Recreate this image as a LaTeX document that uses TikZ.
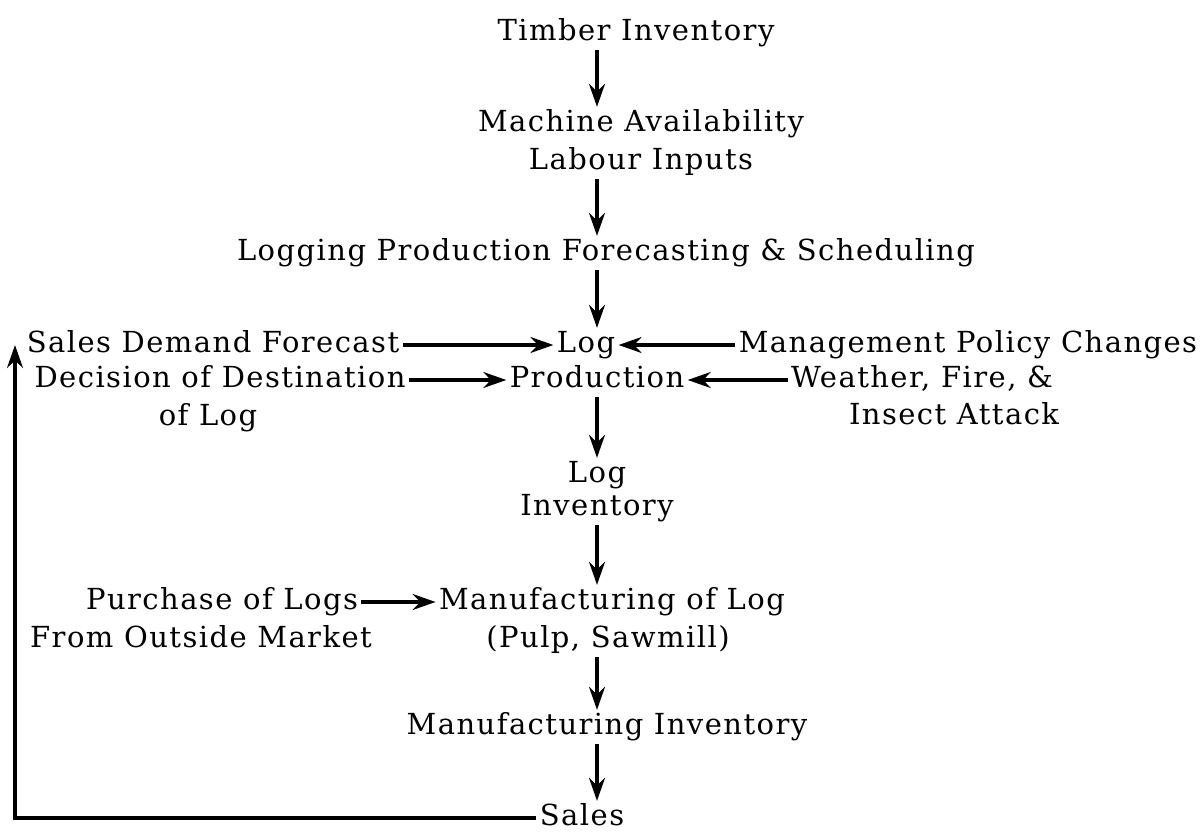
\documentclass[tikz,border=0pt]{standalone}
\usepackage{fontspec}
\setmainfont[LetterSpace=5]{DejaVu Serif}
\usetikzlibrary{arrows.meta}

\begin{document}
\begin{tikzpicture}[x=0.02cm,y=-0.02cm,
		txt/.style={inner sep=0pt, outer sep=2pt, font=\fontsize{16.5}{19}\selectfont, text height=12pt, text depth=3.5pt},
		flow/.style={line width=2.6pt, -{Stealth[length=13pt,width=9pt]}}]
		\useasboundingbox (0,0) rectangle (1201,835);
		\coordinate (ax) at (597,0);
		\coordinate (fb) at (15,0);
		% main column
		\node[txt] (timber) at (636,33) {Timber Inventory};
		\node[txt] (mach) at (641,124) {Machine Availability};
		\node[txt] (labour) at (641,162) {Labour Inputs};
		\node[txt] (lpf) at (606,253) {Logging Production Forecasting \& Scheduling};
		\node[txt] (log) at (586,345) {Log};
		\node[txt] (prod) at (597,380) {Production};
		\node[txt] (loglbl) at (597,475) {Log};
		\node[txt] (loginv) at (597,508) {Inventory};
		\node[txt] (manuf) at (612,602) {Manufacturing of Log};
		\node[txt] (pulp) at (608,640) {(Pulp, Sawmill)};
		\node[txt] (minv) at (607,727) {Manufacturing Inventory};
		\node[txt] (sales) at (582,818) {Sales};
		% side inputs
		\node[txt] (sdf) at (213,345) {Sales Demand Forecast};
		\node[txt] (dest) at (220,380) {Decision of Destination};
		\node[txt] (oflog) at (208,418) {of Log};
		\node[txt] (mpc) at (968,345) {Management Policy Changes};
		\node[txt] (weather) at (922,380) {Weather, Fire, \&};
		\node[txt] (insect) at (954,417) {Insect Attack};
		\node[txt] (purch) at (222,602) {Purchase of Logs};
		\node[txt] (outside) at (201,640) {From Outside Market};

		\draw[flow] (timber.south -| ax) -- (mach.north -| ax);
		\draw[flow] (labour.south -| ax) -- (lpf.north -| ax);
		\draw[flow] (lpf.south -| ax) -- (log.north -| ax);
		\draw[flow] (sdf.east) -- (log.west);
		\draw[flow] (mpc.west) -- (log.east);
		\draw[flow] (dest.east) -- (prod.west);
		\draw[flow] (weather.west) -- (prod.east);
		\draw[flow] (prod.south -| ax) -- (loglbl.north -| ax);
		\draw[flow] (loginv.south -| ax) -- (manuf.north -| ax);
		\draw[flow] (purch.east) -- (manuf.west);
		\draw[flow] (pulp.south -| ax) -- (minv.north -| ax);
		\draw[flow] (minv.south -| ax) -- (sales.north -| ax);
		\draw[flow] (sales.west) -- (sales.west -| fb) -- (sdf.west -| fb);
	\end{tikzpicture}
\end{document}
